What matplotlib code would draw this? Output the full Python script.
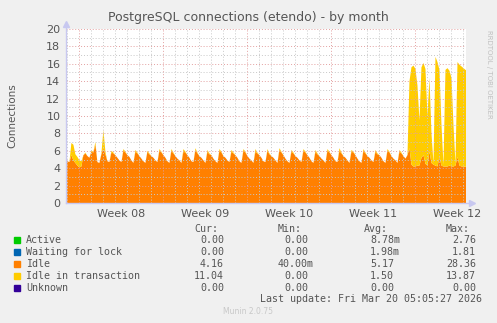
import numpy as np
import matplotlib
matplotlib.use("Agg")
import matplotlib.pyplot as plt

# ---------------- data (4-hour samples, first sample = Sat Feb 14 20:00) ----------------
# time axis in days relative to Monday Mar 16 00:00 (start of Week 12)
T0 = -29 - 1 / 6.0
STEP = 1 / 6.0

idle = [
    5.5,
    # Sun Feb 15 .. (00,04,08,12,16,20)
    4.8, 4.7, 5.5, 4.9, 4.6, 4.3,
    4.1, 4.2, 5.5, 5.7, 5.4, 5.2,
    5.9, 5.8, 6.7, 4.7, 4.6, 5.6,
    6.3, 5.6, 4.8, 4.7, 5.8, 5.7,
    5.5, 5.2, 4.9, 4.7, 6.0, 5.8,
    5.5, 5.3, 4.9, 4.6, 5.9, 5.7,
    5.4, 5.1, 4.8, 4.6, 5.9, 5.6,
    5.4, 5.2, 4.9, 4.7, 6.0, 5.8,
    5.5, 5.2, 4.8, 4.6, 6.0, 5.7,
    5.4, 5.1, 4.9, 4.6, 5.9, 5.8,
    5.5, 5.2, 4.8, 4.7, 6.1, 5.7,
    5.4, 5.2, 4.9, 4.6, 5.9, 5.6,
    5.5, 5.1, 4.8, 4.6, 6.0, 5.8,
    5.4, 5.2, 4.9, 4.7, 5.9, 5.7,
    5.5, 5.2, 4.8, 4.6, 6.0, 5.8,
    5.4, 5.1, 4.9, 4.6, 5.9, 5.7,
    5.5, 5.2, 4.8, 4.7, 6.0, 5.6,
    5.4, 5.2, 4.9, 4.6, 6.1, 5.8,
    5.5, 5.1, 4.8, 4.6, 5.9, 5.7,
    5.4, 5.2, 4.9, 4.7, 6.0, 5.8,
    5.5, 5.2, 4.8, 4.6, 5.9, 5.6,
    5.4, 5.1, 4.9, 4.6, 6.0, 5.8,
    5.5, 5.2, 4.8, 4.7, 6.0, 5.7,
    5.4, 5.2, 4.9, 4.6, 5.9, 5.8,
    5.5, 5.1, 4.8, 4.6, 6.0, 5.7,
    5.4, 5.2, 4.9, 4.7, 5.9, 5.6,
    5.5, 5.2, 4.8, 4.6, 6.0, 5.8,
    5.4, 5.1, 4.9, 4.6, 5.9, 5.7,
    # Sun Mar 15
    5.4, 5.1, 5.5, 6.3, 4.4, 4.2,
    # Mon Mar 16 .. Thu Mar 19
    4.2, 4.3, 4.3, 5.2, 5.5, 4.5,
    4.3, 5.9, 4.6, 4.4, 4.3, 4.2,
    5.3, 4.3, 4.2, 4.2, 4.2, 4.3,
    4.2, 4.2, 4.3, 5.3, 4.3, 4.2,
    # Fri Mar 20
    4.2, 4.16, 4.16,
]

idle_in_transaction = [
    0.0,
    0.0, 0.0, 1.4, 1.8, 1.0, 1.0,
    0.8, 0.6, 0.0, 0.1, 0.0, 0.0,
    0.1, 0.1, 0.3, 0.0, 0.0, 0.1,
    2.1, 0.3, 0.0, 0.0, 0.2, 0.1,
    0.0, 0.0, 0.0, 0.0, 0.2, 0.1,
    0.0, 0.0, 0.0, 0.0, 0.2, 0.1,
    0.0, 0.0, 0.0, 0.0, 0.1, 0.1,
    0.0, 0.0, 0.0, 0.0, 0.2, 0.1,
    0.0, 0.0, 0.0, 0.0, 0.2, 0.1,
    0.0, 0.0, 0.0, 0.0, 0.3, 0.1,
    0.0, 0.0, 0.0, 0.0, 0.2, 0.1,
    0.0, 0.0, 0.0, 0.0, 0.2, 0.1,
    0.0, 0.0, 0.0, 0.0, 0.2, 0.1,
    0.0, 0.0, 0.0, 0.0, 0.2, 0.1,
    0.0, 0.0, 0.0, 0.0, 0.2, 0.1,
    0.0, 0.0, 0.0, 0.0, 0.3, 0.1,
    0.0, 0.0, 0.0, 0.0, 0.2, 0.1,
    0.0, 0.0, 0.0, 0.0, 0.2, 0.1,
    0.0, 0.0, 0.0, 0.0, 0.2, 0.1,
    0.0, 0.0, 0.0, 0.0, 0.2, 0.1,
    0.0, 0.0, 0.0, 0.0, 0.2, 0.1,
    0.0, 0.0, 0.0, 0.0, 0.2, 0.1,
    0.0, 0.0, 0.0, 0.0, 0.3, 0.1,
    0.0, 0.0, 0.0, 0.0, 0.2, 0.1,
    0.0, 0.0, 0.0, 0.0, 0.2, 0.1,
    0.0, 0.0, 0.0, 0.0, 0.2, 0.1,
    0.0, 0.0, 0.0, 0.0, 0.2, 0.1,
    0.0, 0.0, 0.0, 0.0, 0.2, 0.1,
    0.0, 0.0, 0.0, 7.7, 11.2, 11.6,
    11.2, 9.2, 5.2, 10.4, 10.6, 10.9,
    5.7, 8.5, 3.4, 0.2, 12.5, 12.0,
    10.0, 4.7, 0.2, 11.1, 11.3, 10.9,
    10.2, 4.8, 0.2, 10.9, 11.6, 11.5,
    11.3, 11.14, 11.04,
]

active = [0.0] * len(idle)
waiting = [0.0] * len(idle)
unknown = [0.0] * len(idle)

week_labels = ["Week 08", "Week 09", "Week 10", "Week 11", "Week 12"]
week_starts = [-28, -21, -14, -7, 0]

series_names = ["Active", "Waiting for lock", "Idle", "Idle in transaction", "Unknown"]
series_colors = ["#00CC00", "#0066B3", "#FF8000", "#FFCC00", "#330099"]
cur_vals = ["0.00 ", "0.00 ", "4.16 ", "11.04 ", "0.00 "]
min_vals = ["0.00 ", "0.00 ", "40.00m", "0.00 ", "0.00 "]
avg_vals = ["8.78m", "1.98m", "5.17 ", "1.50 ", "0.00 "]
max_vals = ["2.76 ", "1.81 ", "28.36 ", "13.87 ", "0.00 "]

title = "PostgreSQL connections (etendo) - by month"
ylabel = "Connections"
last_update = "Last update: Fri Mar 20 05:05:27 2026"
footer = "Munin 2.0.75"

# ---------------- figure ----------------
W, H = 497, 323
fig = plt.figure(figsize=(W / 100, H / 100), dpi=100, facecolor="#F0F0F0")
L, R, T, B = 66, 466, 29, 203
ax = fig.add_axes([L / W, 1 - B / H, (R - L) / W, (B - T) / H])
ax.set_facecolor("white")

t = T0 + np.arange(len(idle)) * STEP
x_left = T0 + 0.05
x_right = 4.21
ax.stackplot(t, active, waiting, idle, idle_in_transaction, unknown,
             colors=series_colors, linewidth=0, zorder=1)
ax.set_xlim(x_left, x_right)
ax.set_ylim(0, 20)

# grid (drawn on top like rrdtool)
for d in range(int(np.ceil(x_left)), int(np.floor(x_right)) + 1):
    if d in week_starts:
        continue
    ax.axvline(d, color="#C8C8C8", lw=0.7, ls=(0, (1, 2)), zorder=3)
for y in range(1, 20, 2):
    ax.axhline(y, color="#C8C8C8", lw=0.7, ls=(0, (1, 2)), zorder=3)
for d in week_starts:
    ax.axvline(d, color="#E3A0A0", lw=0.7, ls=(0, (1, 2)), zorder=4)
for y in range(2, 21, 2):
    ax.axhline(y, color="#E3A0A0", lw=0.7, ls=(0, (1, 2)), zorder=4)

for s in ax.spines.values():
    s.set_visible(False)
ax.plot([x_left, x_left], [0, 20.6], color="#C8C8F0", lw=1, clip_on=False, zorder=5)
ax.plot([x_left, x_right + 0.5], [0, 0], color="#C8C8F0", lw=1, clip_on=False, zorder=5)
ax.plot([x_left], [20.6], marker="^", color="#C8C8F0", ms=4, clip_on=False, zorder=5)
ax.plot([x_right + 0.5], [0], marker=">", color="#C8C8F0", ms=4, clip_on=False, zorder=5)

ax.set_yticks(range(0, 21, 2))
ax.set_yticklabels([str(v) for v in range(0, 21, 2)])
ax.set_xticks([w + 3.5 for w in week_starts])
ax.set_xticklabels(week_labels)
ax.tick_params(axis="both", length=0, labelsize=8, colors="#555555", pad=4)
ax.tick_params(axis="x", pad=4)

fig.text(248 / W, 1 - 17 / H, title, ha="center", va="center", fontsize=9, color="#555555")
fig.text(12 / W, 1 - 116 / H, ylabel, ha="center", va="center", rotation=90,
         fontsize=7.5, color="#555555")
fig.text(489 / W, 1 - 30 / H, "RRDTOOL / TOBI OETIKER", ha="center", va="top",
         rotation=-90, fontsize=5, color="#C0C0C0")

# legend table
mono = "DejaVu Sans Mono"
fs = 7.2
cw = 6.0  # char width px
txt_col = "#555555"
col_right = [230, 314, 400, 482]
headers = ["Cur:", "Min:", "Avg:", "Max:"]
for cr, h in zip(col_right, headers):
    fig.text((cr - 2 * cw) / W, 1 - 228.5 / H, h, ha="right", va="center",
             family=mono, fontsize=fs, color=txt_col)
rows_y = [240, 252, 264, 276, 288]
for i, name in enumerate(series_names):
    y = rows_y[i]
    fig.patches.append(plt.Rectangle((14 / W, 1 - (y + 3) / H), 6 / W, 6 / H,
                                     transform=fig.transFigure, color=series_colors[i]))
    fig.text(26 / W, 1 - y / H, name, ha="left", va="center", family=mono,
             fontsize=fs, color=txt_col)
    for cr, vals in zip(col_right, [cur_vals, min_vals, avg_vals, max_vals]):
        v = vals[i]
        shift = cw if v.endswith(" ") else 0
        fig.text((cr - shift) / W, 1 - y / H, v.strip(), ha="right", va="center",
                 family=mono, fontsize=fs, color=txt_col)
fig.text(482 / W, 1 - 299.5 / H, last_update, ha="right", va="center", family=mono,
         fontsize=fs, color=txt_col)
fig.text(248 / W, 1 - 312 / H, footer, ha="center", va="center", fontsize=5.5,
         color="#C8C8C8")

fig.savefig("out.png", dpi=100, facecolor=fig.get_facecolor())
